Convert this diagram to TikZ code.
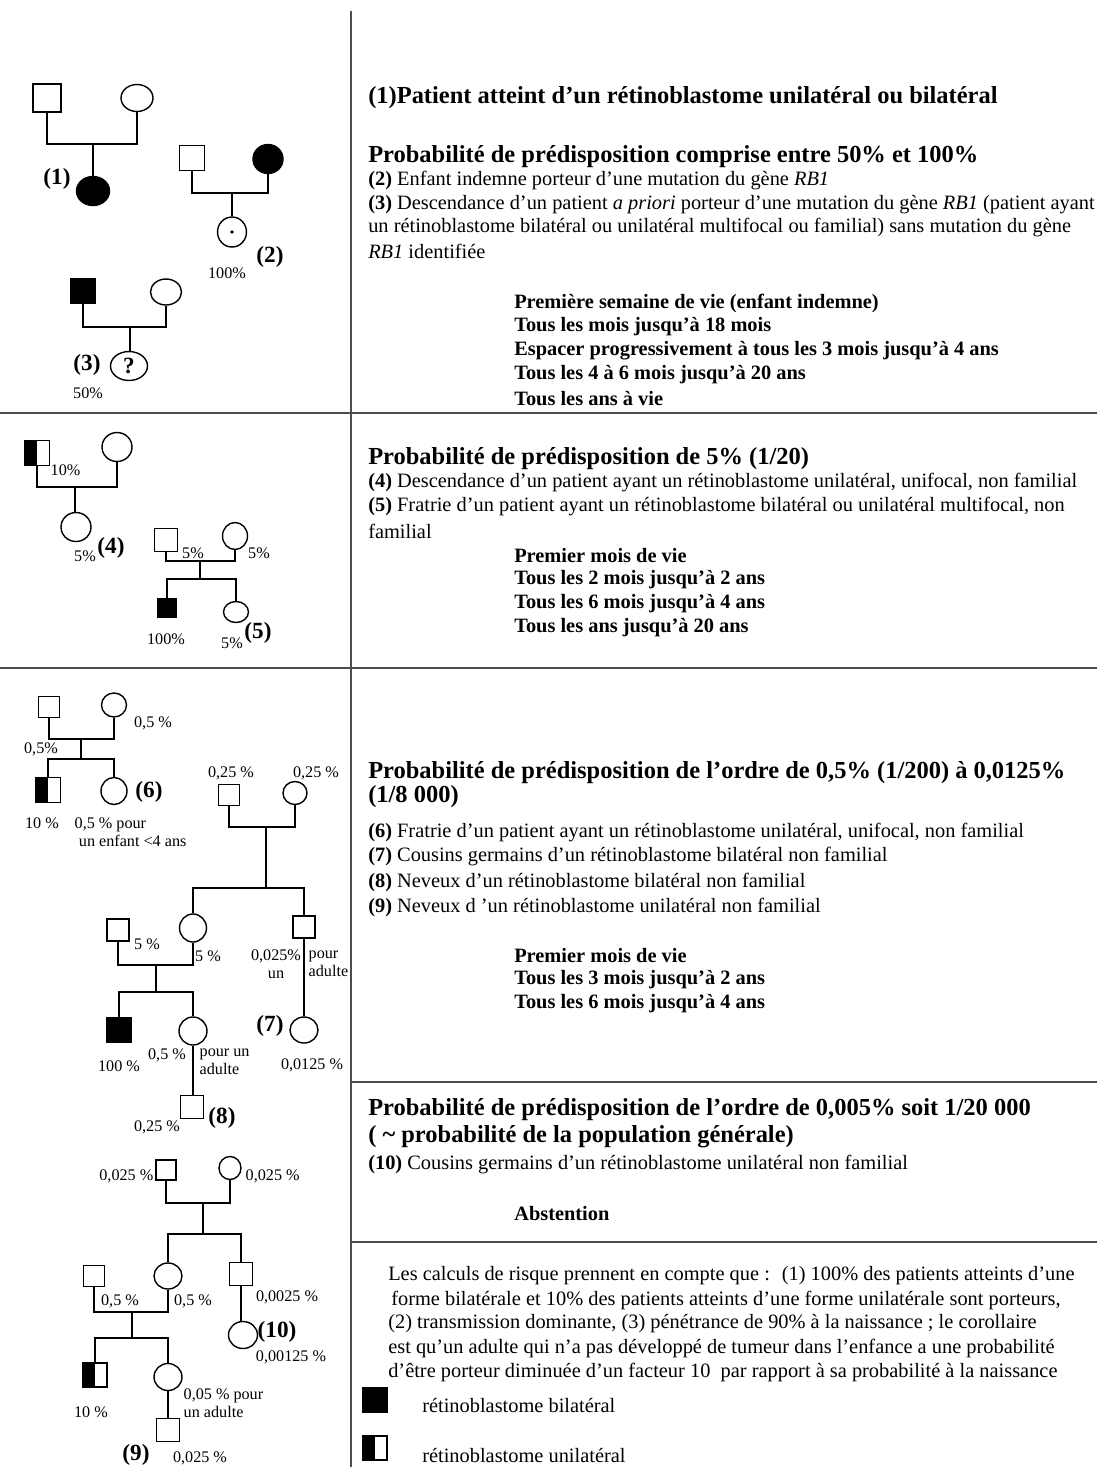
\documentclass[tikz,border=0pt]{standalone}
\usepackage{fontspec}
\setmainfont{Liberation Serif}
\usetikzlibrary{positioning,shapes.geometric}

\newcommand\pedfont{\fontsize{11.5pt}{13pt}\selectfont}
\newcommand\numfont{\fontsize{16.5pt}{18pt}\selectfont\bfseries}
\newcommand\bodyfont{\fontsize{14.5pt}{16pt}\selectfont}
\newcommand\headfont{\fontsize{17.4pt}{19pt}\selectfont\bfseries}
\newcommand\schedfont{\fontsize{14.5pt}{16pt}\selectfont\bfseries}

\begin{document}
\begin{tikzpicture}[x=0.025cm,y=-0.025cm,
every node/.style={inner sep=0pt},
male/.style={rectangle,draw,line width=1pt,minimum width=#1*0.025cm,minimum height=#1*0.025cm},
female/.style 2 args={ellipse,draw,line width=1pt,minimum width=#1*0.025cm,minimum height=#2*0.025cm},
aff/.style={fill=black},
uni/.style={path picture={\fill[black] (path picture bounding box.south west) rectangle (path picture bounding box.north);}},
dot/.style={path picture={\fill[black] (path picture bounding box.center) circle (1.4pt);}},
pct/.style={font=\pedfont},
num/.style={font=\numfont},
body/.style={anchor=west,font=\bodyfont},
head/.style={anchor=west,font=\headfont},
sched/.style={anchor=west,font=\schedfont},
sep/.style={line width=1.4pt,black!70}]
\useasboundingbox (0,0) rectangle (1097,1467);

% separateurs
\draw[sep] (351,11) -- (351,1467);
\draw[sep] (0,413) -- (1097,413);
\draw[sep] (0,668) -- (1097,668);
\draw[sep] (351,1082) -- (1097,1082);
\draw[sep] (351,1242) -- (1097,1242);

\begin{scope}[line width=1pt]
% (1)
\node[male=28] (p1f) at (47,98) {};
\node[female={32}{27}] (p1m) at (137,98) {};
\node[female={33}{29},aff] (p1c) at (93,191) {};
\coordinate (p1x) at (93,144);
\draw (p1f) |- (p1x) -| (p1m);
\draw (p1x) -- (p1x |- p1c.north);
\node[num] (n1) at (57,179) {(1)};
% (2)
\node[male=25] (p2f) at (192,158) {};
\node[female={30}{29},aff] (p2m) at (268,159) {};
\node[female={29}{30},dot] (p2c) at (232,232) {};
\coordinate (p2x) at (232,193);
\draw (p2f) |- (p2x) -| (p2m);
\draw (p2x) -- (p2c);
\node[num] (n2) at (270,257) {(2)};
\node[pct] (q2) at (227,273) {100\%};
% (3)
\node[male=24,aff] (p3f) at (83,291) {};
\node[female={31}{26}] (p3m) at (166,292) {};
\node[female={37}{29},font=\numfont] (p3c) at (129,366) {?};
\coordinate (p3x) at (130,327);
\draw (p3f) |- (p3x) -| (p3m);
\draw (p3x) -- (p3x |- p3c.north);
\node[num] (n3) at (87,365) {(3)};
\node[pct] (q3) at (88,393) {50\%};
% (4)
\node[male=25,uni] (p4f) at (37,453) {};
\node[female={30}{29}] (p4m) at (117,447) {};
\node[female={30}{29}] (p4c) at (76,527) {};
\coordinate (p4x) at (75,487);
\draw (p4f) |- (p4x) -| (p4m);
\draw (p4x) -- (p4x |- p4c.north);
\node[pct,anchor=west] (q4a) at (50,470) {10\%};
\node[pct] (q4b) at (85,556) {5\%};
\node[num] (n4) at (111,548) {(4)};
% (5)
\node[male=23] (p5f) at (166,540) {};
\node[female={25}{27}] (p5m) at (235,536) {};
\coordinate (p5x) at (200,561);
\coordinate (p5s) at (200,579);
\node[male=19,aff] (p5a) at (167,608) {};
\node[female={25}{21}] (p5b) at (236,612) {};
\draw (p5f) |- (p5x) -| (p5m);
\draw (p5x) -- (p5s);
\draw (p5a) |- (p5s) -| (p5b);
\node[pct] (q5a) at (193,553) {5\%};
\node[pct] (q5b) at (259,553) {5\%};
\node[pct] (q5c) at (166,639) {100\%};
\node[pct] (q5d) at (232,643) {5\%};
\node[num] (n5) at (258,633) {(5)};
% (6)
\node[male=21] (p6f) at (49,707) {};
\node[female={25}{24}] (p6m) at (114,705) {};
\coordinate (p6x) at (81,739);
\coordinate (p6s) at (81,759);
\node[male=25,uni] (p6a) at (48,790) {};
\node[female={26}{27}] (p6b) at (114,791) {};
\draw (p6f) |- (p6x) -| (p6m);
\draw (p6x) -- (p6s);
\draw (p6a) |- (p6s) -| (p6b);
\node[pct] (q6a) at (153,723) {0,5 \%};
\node[pct] (q6b) at (41,749) {0,5\%};
\node[num] (n6) at (149,792) {(6)};
\node[pct] (q6c) at (42,823) {10 \%};
\node[pct,anchor=west,align=left] (q6d) at (74,832) {0,5 \% pour\\\kern3pt un enfant <4 ans};
% (7)
\node[male=21] (g7f) at (229,795) {};
\node[female={24}{23}] (g7m) at (295,793) {};
\coordinate (g7x) at (266,827);
\coordinate (g7s) at (266,888);
\node[female={27}{28}] (a7) at (193,928) {};
\node[male=22] (u7) at (304,927) {};
\node[female={28}{26}] (c7) at (304,1030) {};
\draw (g7f) |- (g7x) -| (g7m);
\draw (g7x) -- (g7s);
\draw (a7) |- (g7s) -| (u7);
\draw (u7) -- (c7);
\node[pct] (q7a) at (231,773) {0,25 \%};
\node[pct] (q7b) at (316,773) {0,25 \%};
\node[pct,align=center] (q7c) at (276,964) {0,025\%\\un};
\node[pct,anchor=west,align=left] (q7d) at (308,964) {pour\\adulte};
\node[num] (n7) at (270,1026) {(7)};
\node[pct] (q7e) at (312,1065) {0,0125 \%};
% (8)
\node[male=22] (p8f) at (118,930) {};
\coordinate (p8x) at (156,965);
\coordinate (p8s) at (156,992);
\node[male=24,aff] (p8a) at (119,1030) {};
\node[female={28}{28}] (p8b) at (193,1031) {};
\node[male=23] (c8) at (192,1107) {};
\draw (p8f) |- (p8x) -| (a7);
\draw (p8x) -- (p8s);
\draw (p8a) |- (p8s) -| (p8b);
\draw (p8b) -- (p8b |- c8.north);
\node[pct] (q8a) at (147,944) {5 \%};
\node[pct] (q8b) at (208,956) {5 \%};
\node[pct] (q8c) at (119,1066) {100 \%};
\node[pct] (q8d) at (167,1055) {0,5 \%};
\node[pct,anchor=west,align=left] (q8e) at (199,1062) {pour un\\adulte};
\node[pct] (q8f) at (157,1127) {0,25 \%};
\node[num] (n8) at (222,1118) {(8)};
% (9) et (10)
\node[male=20] (g9f) at (166,1170) {};
\node[female={22}{23}] (g9m) at (230,1168) {};
\coordinate (g9x) at (203,1203);
\coordinate (g9s) at (203,1234);
\node[female={28}{26}] (a9) at (168,1276) {};
\node[male=23] (u9) at (241,1274) {};
\node[female={29}{27}] (c10) at (243,1335) {};
\draw (g9f) |- (g9x) -| (g9m);
\draw (g9x) -- (g9s);
\draw (a9) |- (g9s) -| (u9);
\draw (u9) -- (u9 |- c10.north);
\node[male=21] (p9f) at (94,1276) {};
\coordinate (p9x) at (132,1312);
\coordinate (p9s) at (132,1338);
\node[male=24,uni] (p9a) at (95,1375) {};
\node[female={28}{27}] (p9b) at (168,1377) {};
\node[male=23] (c9) at (168,1430) {};
\draw (p9f) |- (p9x) -| (a9);
\draw (p9x) -- (p9s);
\draw (p9a) |- (p9s) -| (p9b);
\draw (p9b) -- (c9);
\node[pct,anchor=east] (q9a) at (154,1176) {0,025 \%};
\node[pct,anchor=west] (q9b) at (245,1176) {0,025 \%};
\node[pct] (q9c) at (287,1297) {0,0025 \%};
\node[num,anchor=west] (n10) at (257,1332) {(10)};
\node[pct] (q9d) at (291,1357) {0,00125 \%};
\node[pct] (q9e) at (120,1301) {0,5 \%};
\node[pct] (q9f) at (193,1301) {0,5 \%};
\node[pct] (q9g) at (91,1412) {10 \%};
\node[pct,anchor=west,align=left] (q9h) at (183,1403) {0,05 \% pour\\un adulte};
\node[num] (n9) at (136,1455) {(9)};
\node[pct] (q9i) at (200,1458) {0,025 \%};
\end{scope}

% colonne de droite
\node[head] (h1) at (368,98) {(1)Patient atteint d’un rétinoblastome unilatéral ou bilatéral};
\node[head] (h2) at (368,157) {Probabilité de prédisposition comprise entre 50\% et 100\%};
\node[body] (t21) at (368,181) {\textbf{(2)} Enfant indemne porteur d’une mutation du gène \textit{RB1}};
\node[body] (t22) at (368,205) {\textbf{(3)} Descendance d’un patient \textit{a priori} porteur d’une mutation du gène \textit{RB1} (patient ayant};
\node[body] (t23) at (368,228) {un rétinoblastome bilatéral ou unilatéral multifocal ou familial) sans mutation du gène};
\node[body] (t24) at (368,251) {\textit{RB1} identifiée};
\foreach \t [count=\i] in {Première semaine de vie (enfant indemne),Tous les mois jusqu’à 18 mois,
  Espacer progressivement à tous les 3 mois jusqu’à 4 ans,Tous les 4 à 6 mois jusqu’à 20 ans,Tous les ans à vie}
  \node[sched] (s1\i) at (514,279+24*\i) {\t};

\node[head] (h3) at (368,459) {Probabilité de prédisposition de 5\% (1/20)};
\node[body] (t31) at (368,483) {\textbf{(4)} Descendance d’un patient ayant un rétinoblastome unilatéral, unifocal, non familial};
\node[body] (t32) at (368,507) {\textbf{(5)} Fratrie d’un patient ayant un rétinoblastome bilatéral ou unilatéral multifocal, non};
\node[body] (t33) at (368,531) {familial};
\foreach \t [count=\i] in {Premier mois de vie,Tous les 2 mois jusqu’à 2 ans,Tous les 6 mois jusqu’à 4 ans,Tous les ans jusqu’à 20 ans}
  \node[sched] (s2\i) at (514,532+24*\i) {\t};

\node[head] (h4) at (368,773) {Probabilité de prédisposition de l’ordre de 0,5\% (1/200) à 0,0125\%};
\node[head] (h4b) at (368,797) {(1/8 000)};
\node[body] (t41) at (368,833) {\textbf{(6)} Fratrie d’un patient ayant un rétinoblastome unilatéral, unifocal, non familial};
\node[body] (t42) at (368,857) {\textbf{(7)} Cousins germains d’un rétinoblastome bilatéral non familial};
\node[body] (t43) at (368,882) {\textbf{(8)} Neveux d’un rétinoblastome bilatéral non familial};
\node[body] (t44) at (368,907) {\textbf{(9)} Neveux d ’un rétinoblastome unilatéral non familial};
\foreach \t [count=\i] in {Premier mois de vie,Tous les 3 mois jusqu’à 2 ans,Tous les 6 mois jusqu’à 4 ans}
  \node[sched] (s3\i) at (514,932+24*\i) {\t};

\node[head] (h5) at (368,1110) {Probabilité de prédisposition de l’ordre de 0,005\% soit 1/20 000};
\node[head] (h5b) at (368,1137) {( \textasciitilde\ probabilité de la population générale)};
\node[body] (t51) at (368,1165) {\textbf{(10)} Cousins germains d’un rétinoblastome unilatéral non familial};
\node[sched] (s51) at (514,1214) {Abstention};

\node[body] (r1) at (388,1276) {Les calculs de risque prennent en compte que :~ (1) 100\% des patients atteints d’une};
\node[body] (r2) at (391,1300) {forme bilatérale et 10\% des patients atteints d’une forme unilatérale sont porteurs,};
\node[body] (r3) at (388,1324) {(2) transmission dominante, (3) pénétrance de 90\% à la naissance ; le corollaire};
\node[body] (r4) at (388,1348) {est qu’un adulte qui n’a pas développé de tumeur dans l’enfance a une probabilité};
\node[body] (r5) at (388,1372) {d’être porteur diminuée d’un facteur 10~ par rapport à sa probabilité à la naissance};

% legende
\node[male=24,aff] (lg1) at (375,1400) {};
\node[body] (lt1) at (422,1405) {rétinoblastome bilatéral};
\node[male=24,uni] (lg2) at (375,1448) {};
\node[body] (lt2) at (422,1455) {rétinoblastome unilatéral};
\end{tikzpicture}
\end{document}
